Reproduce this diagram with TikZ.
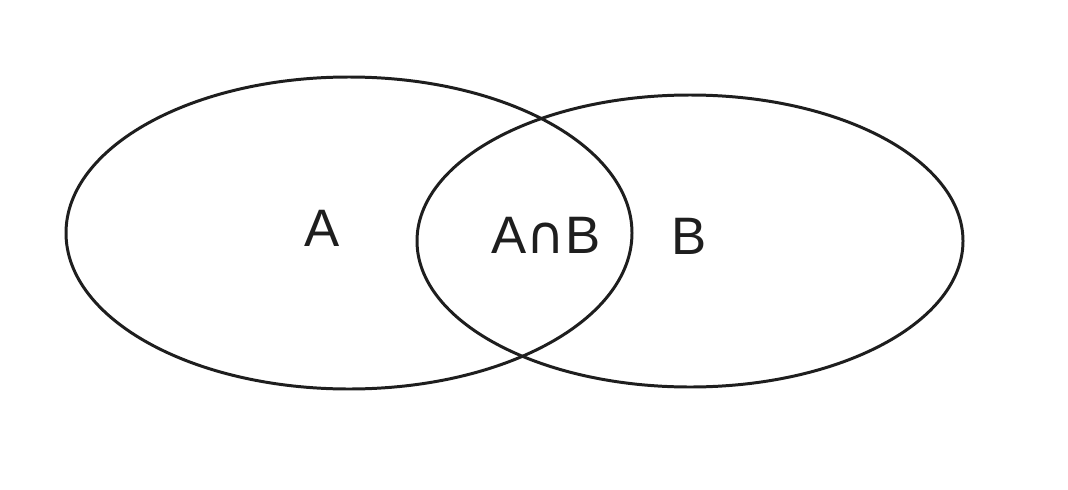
\documentclass[tikz,border=0pt]{standalone}
\usepackage{fontspec}
\setmainfont{Liberation Sans}
\newfontfamily\symfont{DejaVu Sans}
\usepackage{xcolor}
\usepackage{tikz}
\definecolor{inkGray}{HTML}{1E1E1E}

\begin{document}
\begin{tikzpicture}[
  x=0.02cm, y=-0.02cm,
  setline/.style={draw=inkGray, line width=1.7pt},
  setlabel/.style={text=inkGray, font=\fontsize{30}{34}\selectfont, inner sep=0pt}
]
\useasboundingbox (0,0) rectangle (1068,490);
% the two sets
\draw[setline] (349,233) ellipse [x radius=283, y radius=156];
\draw[setline] (690,241) ellipse [x radius=273, y radius=146];
% labels
\node[setlabel] (setA) at (322,228) {A};
\node[setlabel] (both) at (546,235) {A{\symfont ∩}B};
\node[setlabel] (setB) at (689,236) {B};
\end{tikzpicture}
\end{document}
